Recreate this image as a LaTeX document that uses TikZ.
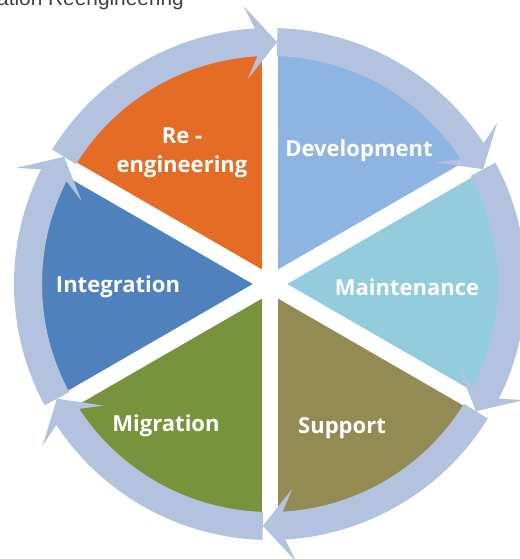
\documentclass[tikz,border=0pt]{standalone}
\usepackage{fontspec}
\setmainfont{Open Sans}
\newfontfamily\titlefont{Liberation Sans}
\usetikzlibrary{positioning}

\definecolor{reengcol}{HTML}{E56C25}
\definecolor{devcol}{HTML}{8EB4E3}
\definecolor{maintcol}{HTML}{93CDDD}
\definecolor{suppcol}{HTML}{948A54}
\definecolor{migcol}{HTML}{77933C}
\definecolor{integcol}{HTML}{4F81BD}
\definecolor{ringcol}{HTML}{B3C2DE}
\definecolor{titlecol}{HTML}{404040}

\begin{document}
\begin{tikzpicture}
    [ scale = .03
    , phase/.style =
      { text=white, align=center, font=\bfseries\fontsize{18.8}{24.5}\selectfont }
    , gap/.style =
      { white, line width=14.5pt }
    , ringpart/.style =
      { fill=ringcol }
    ]
    \useasboundingbox (-270,-275) rectangle (249,284);

    \node [anchor=base east, text=titlecol, font=\titlefont\fontsize{17.8}{20}\selectfont]
      (title) at (-82,278) {Application Reengineering};

    % pie
    \foreach \a/\col in {90/reengcol, 30/devcol, -30/maintcol, -90/suppcol, -150/migcol, 150/integcol}
      \fill [\col] (0,0) -- (\a:230) arc [start angle=\a, end angle=\a+60, radius=230] -- cycle;
    \foreach \a in {90,30,-30,-90,-150,150}
      \draw [gap] (0,0) -- (\a:232);

    % ring of arrows, clockwise
    \foreach \a in {150,90,30,-30,-90,-150}
      \fill [ringpart] ({\a-1.7}:228) -- ({\a-1.7}:256)
        arc [start angle=\a-1.7, end angle=\a-56.6, radius=256]
        -- ({\a-54.6}:279) -- ({\a-61.7}:242) -- ({\a-53.8}:206)
        -- ({\a-56.8}:228)
        arc [start angle=\a-56.8, end angle=\a-1.7, radius=228] -- cycle;

    \node [phase] (reeng) at (-88,131) {Re -\\engineering};
    \node [phase] (dev) at (89,133) {Development};
    \node [phase] (maint) at (137,-3) {Maintenance};
    \node [phase] (supp) at (72,-144) {Support};
    \node [phase] (mig) at (-104,-142) {Migration};
    \node [phase] (integ) at (-152,-3) {Integration};
  \end{tikzpicture}
\end{document}
